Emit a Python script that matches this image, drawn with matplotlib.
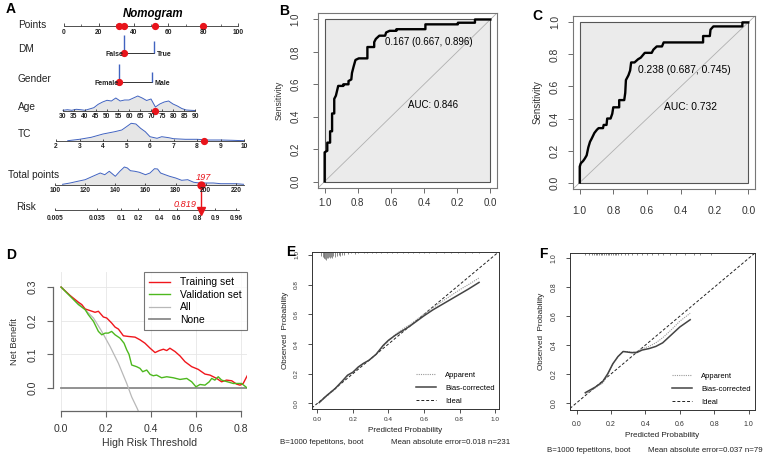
import numpy as np
import matplotlib
matplotlib.use("Agg")
import matplotlib.pyplot as plt
from matplotlib.patches import Rectangle

plt.rcParams["font.family"] = ["Liberation Sans", "DejaVu Sans"]

W, H = 767, 463

# ---------------- data: A nomogram ----------------
points_ticks = [0, 20, 40, 60, 80, 100]
dm_levels = ["False", "True"]
dm_points = [34.7, 51.7]
dm_freq = [18, 12]
gender_levels = ["Female", "Male"]
gender_points = [31.8, 50.4]
gender_freq = [18, 10]
age_ticks = list(range(30, 95, 5))
age_grid = list(range(30, 92, 2))
age_dens = [0.7, 1.3, 0.7, 1.7, 1.3, 0.7, 2.0, 3.3, 6.7, 9.0,
            10.7, 10.0, 13.0, 10.0, 11.0, 11.0, 13.0, 15.0, 13.0, 10.5,
            12.0, 4.0, 7.0, 9.0, 10.0, 7.0, 5.0, 2.5, 1.0, 0.7, 0.5]
tc_ticks = [2, 3, 4, 5, 6, 7, 8, 9, 10]
tc_grid = [2.5, 3, 3.5, 4, 4.5, 4.8, 5, 5.2, 5.4, 5.6, 5.8, 6, 6.3, 6.5,
           6.8, 7, 7.5, 8, 8.5, 9, 9.5, 10]
tc_dens = [0.3, 1.7, 3.7, 7.0, 9.3, 11.0, 14.3, 17.7, 17.0, 12.7, 9.3, 4.3,
           2.7, 4.3, 3.3, 2.3, 1.7, 1.7, 1.0, 1.0, 0.7, 0.3]
total_ticks = [100, 120, 140, 160, 180, 200, 220]
total_grid = [105, 110, 115, 120, 125, 130, 133, 136, 140, 143, 146, 148, 150,
              153, 156, 160, 163, 166, 168, 170, 173, 176, 180, 184, 188, 192,
              196, 200, 205, 210, 215, 220, 225]
total_dens = [0.7, 2.0, 3.7, 5.3, 8.7, 12.0, 10.3, 13.7, 8.7, 13.7, 18.0, 17.0,
              14.3, 13.7, 12.7, 10.3, 12.0, 16.3, 16.0, 12.0, 10.3, 8.7, 7.0,
              4.7, 5.3, 2.7, 2.0, 2.0, 2.0, 1.3, 1.3, 1.3, 0.7]
risk_ticks = [0.005, 0.035, 0.1, 0.2, 0.4, 0.6, 0.8, 0.9, 0.96]
risk_labels = ["0.005", "0.035", "0.1", "0.2", "0.4", "0.6", "0.8", "0.9", "0.96"]
case_points = [31.8, 34.7, 52.5, 80.0]
case_dm, case_gender = 0, 0
case_age = 72
case_tc = 8.3
case_total = 197
case_risk = 0.819

# ---------------- data: B / C ROC ----------------
b_spec = [1.0, 1.0, 0.984, 0.984, 0.967, 0.967, 0.955, 0.955, 0.942, 0.942,
          0.932, 0.918, 0.918, 0.887, 0.887, 0.856, 0.856, 0.839, 0.835, 0.825,
          0.814, 0.794, 0.742, 0.742, 0.701, 0.701, 0.691, 0.670, 0.635, 0.629,
          0.608, 0.567, 0.567, 0.392, 0.392, 0.196, 0.196, 0.093, 0.093, 0.0]
b_sens = [0.0, 0.18, 0.19, 0.24, 0.24, 0.31, 0.31, 0.42, 0.42, 0.51,
          0.53, 0.59, 0.59, 0.59, 0.60, 0.60, 0.62, 0.63, 0.67, 0.71,
          0.75, 0.76, 0.76, 0.83, 0.83, 0.86, 0.88, 0.90, 0.90, 0.92,
          0.93, 0.93, 0.94, 0.94, 0.97, 0.97, 0.98, 0.98, 1.0, 1.0]
c_spec = [1.0, 1.0, 0.994, 0.980, 0.970, 0.959, 0.949, 0.939, 0.929, 0.913,
          0.898, 0.888, 0.862, 0.858, 0.841, 0.837, 0.817, 0.807, 0.801, 0.766,
          0.766, 0.736, 0.730, 0.726, 0.711, 0.701, 0.695, 0.675, 0.654, 0.638,
          0.614, 0.573, 0.563, 0.543, 0.512, 0.502, 0.268, 0.268, 0.228, 0.224,
          0.207, 0.035, 0.035, 0.0]
c_sens = [0.0, 0.10, 0.12, 0.135, 0.15, 0.17, 0.22, 0.255, 0.275, 0.31,
          0.33, 0.34, 0.34, 0.36, 0.36, 0.40, 0.40, 0.43, 0.47, 0.47,
          0.515, 0.515, 0.56, 0.64, 0.67, 0.70, 0.75, 0.75, 0.77, 0.78,
          0.81, 0.81, 0.83, 0.85, 0.85, 0.875, 0.875, 0.915, 0.915, 0.955,
          0.975, 0.975, 1.0, 1.0]

# ---------------- data: D decision curve ----------------
red_t = [0, 0.04, 0.077, 0.092, 0.107, 0.129, 0.151, 0.166, 0.188, 0.203,
         0.225, 0.24, 0.255, 0.277, 0.30, 0.329, 0.351, 0.373, 0.396, 0.418,
         0.437, 0.455, 0.47, 0.484, 0.507, 0.529, 0.551, 0.581, 0.61, 0.64,
         0.662, 0.692, 0.714, 0.736, 0.759, 0.781, 0.796, 0.81, 0.828]
red_nb = [0.30, 0.275, 0.255, 0.248, 0.235, 0.23, 0.225, 0.228, 0.211, 0.208,
          0.193, 0.181, 0.175, 0.155, 0.153, 0.151, 0.143, 0.133, 0.118, 0.105,
          0.111, 0.115, 0.111, 0.118, 0.108, 0.095, 0.078, 0.063, 0.055, 0.041,
          0.038, 0.028, 0.018, 0.023, 0.021, 0.011, 0.008, 0.013, 0.036]
green_t = [0, 0.077, 0.107, 0.121, 0.144, 0.166, 0.181, 0.196, 0.21, 0.225,
           0.24, 0.262, 0.28, 0.292, 0.302, 0.314, 0.336, 0.351, 0.363, 0.381,
           0.396, 0.41, 0.425, 0.447, 0.47, 0.499, 0.529, 0.559, 0.581, 0.60,
           0.618, 0.64, 0.659, 0.67, 0.684, 0.699, 0.714, 0.766, 0.803, 0.825]
green_nb = [0.30, 0.248, 0.233, 0.218, 0.198, 0.168, 0.158, 0.163, 0.163, 0.168,
            0.158, 0.148, 0.133, 0.113, 0.10, 0.068, 0.063, 0.058, 0.048, 0.053,
            0.04, 0.036, 0.038, 0.03, 0.033, 0.03, 0.025, 0.028, 0.018, 0.003,
            0.01, 0.008, 0.018, 0.028, 0.023, 0.033, 0.023, 0.013, 0.013, 0.001]
all_t = [0, 0.05, 0.099, 0.144, 0.181, 0.218, 0.255, 0.292, 0.314, 0.339, 0.35]
all_nb = [0.30, 0.268, 0.238, 0.208, 0.168, 0.123, 0.073, 0.013, -0.027, -0.062, -0.08]
none_t = [0, 0.827]
none_nb = [0, 0]

# ---------------- data: E / F calibration ----------------
e_x = [0.01, 0.05, 0.10, 0.14, 0.17, 0.20, 0.23, 0.26, 0.29, 0.33, 0.37, 0.40,
       0.44, 0.48, 0.52, 0.56, 0.60, 0.65, 0.70, 0.75, 0.80, 0.85, 0.91]
e_bias = [0.005, 0.05, 0.10, 0.15, 0.19, 0.21, 0.245, 0.27, 0.29, 0.33, 0.39, 0.425,
          0.46, 0.49, 0.52, 0.555, 0.59, 0.63, 0.665, 0.70, 0.735, 0.77, 0.815]
e_app = [0.005, 0.045, 0.095, 0.145, 0.185, 0.21, 0.24, 0.27, 0.29, 0.33, 0.385, 0.42,
         0.465, 0.50, 0.53, 0.565, 0.60, 0.645, 0.685, 0.725, 0.765, 0.80, 0.845]
e_rug_x = [0.02, 0.03, 0.035, 0.04, 0.045, 0.05, 0.055, 0.06, 0.065, 0.07,
           0.075, 0.08, 0.09, 0.10, 0.11, 0.12, 0.13, 0.14, 0.15, 0.17,
           0.19, 0.21, 0.23, 0.26, 0.28, 0.31, 0.33, 0.36, 0.39, 0.42,
           0.45, 0.48, 0.51, 0.54, 0.57, 0.60, 0.63, 0.67, 0.71, 0.75,
           0.79, 0.83, 0.87, 0.91]
e_rug_h = [0.03, 0.035, 0.04, 0.045, 0.05, 0.055, 0.045, 0.04, 0.035, 0.045,
           0.035, 0.04, 0.03, 0.035, 0.03, 0.025, 0.03, 0.02, 0.02, 0.015,
           0.012, 0.015, 0.012, 0.01, 0.012, 0.01, 0.012, 0.01, 0.008, 0.01,
           0.012, 0.008, 0.01, 0.008, 0.01, 0.008, 0.01, 0.008, 0.008, 0.01,
           0.008, 0.008, 0.008, 0.008]
f_x = [0.05, 0.08, 0.11, 0.15, 0.18, 0.21, 0.24, 0.27, 0.29, 0.32, 0.35, 0.38,
       0.42, 0.46, 0.50, 0.55, 0.60, 0.66]
f_bias = [0.07, 0.09, 0.11, 0.145, 0.20, 0.27, 0.32, 0.355, 0.352, 0.347, 0.348,
          0.365, 0.375, 0.39, 0.415, 0.47, 0.525, 0.575]
f_app = [0.06, 0.08, 0.105, 0.135, 0.19, 0.265, 0.32, 0.355, 0.355, 0.35, 0.355,
         0.375, 0.39, 0.415, 0.45, 0.505, 0.565, 0.62]
f_rug_x = [0.05, 0.07, 0.09, 0.10, 0.11, 0.12, 0.13, 0.14, 0.15, 0.16, 0.17,
           0.18, 0.19, 0.20, 0.21, 0.22, 0.23, 0.24, 0.26, 0.28, 0.30, 0.32,
           0.35, 0.38, 0.41, 0.44, 0.47, 0.50, 0.54, 0.58, 0.63, 0.68, 0.72, 0.78]
f_rug_h = [0.018] * len(f_rug_x)


def rect(x0, y0, x1, y1):
    return [x0 / W, 1 - y1 / H, (x1 - x0) / W, (y1 - y0) / H]


fig = plt.figure(figsize=(W / 100, H / 100), dpi=100)

# ================= A: nomogram (pixel space axes) =================
axA = fig.add_axes(rect(0, 0, 250, 230))
axA.set_xlim(0, 250)
axA.set_ylim(230, 0)
axA.axis("off")

px_points = lambda p: 64 + 1.74 * np.asarray(p, float)
px_age = lambda a: 63 + 2.2 * (np.asarray(a, float) - 30)
px_tc = lambda t: 56 + 23.5 * (np.asarray(t, float) - 2)
px_total = lambda t: 55 + 1.508 * (np.asarray(t, float) - 100)
px_risk = lambda r: 168.1 + 21.37 * np.log(np.asarray(r, float) / (1 - np.asarray(r, float)))

RED = "#e8141b"
BLUE = "#4163c0"
LINE = "#333333"


def nomo_axis(y, xs, labels, x_from, x_to, lab_dy=6):
    axA.plot([x_from, x_to], [y, y], color=LINE, lw=0.6)
    axA.vlines(xs, y - 2.2, y, color=LINE, lw=0.6)
    for x, lab in zip(xs, labels):
        axA.text(x, y + lab_dy, lab, ha="center", va="center", fontsize=4.8,
                 fontweight="bold", color="#222222")


def density(y, xs, h):
    xs = np.asarray(xs, float)
    top = y - np.asarray(h, float)
    axA.fill_between(xs, top, y, color="#e6e6e6", lw=0)
    axA.plot(xs, top, color=BLUE, lw=0.7)


axA.text(153, 14, "Nomogram", ha="center", va="center", fontsize=8.3,
         fontweight="bold", fontstyle="italic")
row_labels = [("Points", 18, 25), ("DM", 18, 49), ("Gender", 18, 79), ("Age", 18, 107),
              ("TC", 18, 134), ("Total points", 8, 175), ("Risk", 16, 207)]
for txt, x, y in row_labels:
    axA.text(x, y, txt, ha="left", va="center", fontsize=7.3, color="#222222")

# Points
nomo_axis(25.5, px_points(points_ticks), [str(v) for v in points_ticks],
          px_points(0), px_points(100), lab_dy=7)
axA.vlines(px_points(range(10, 100, 20)), 24, 25.5, color=LINE, lw=0.5)

# DM
y_dm = 53
xs = px_points(dm_points)
axA.plot(xs, [y_dm, y_dm], color=LINE, lw=0.7)
axA.vlines(xs, y_dm - np.array(dm_freq), y_dm, color=BLUE, lw=1.0)
axA.text(xs[0] - 1.5, y_dm + 1.8, dm_levels[0], ha="right", va="center", fontsize=5,
         fontweight="bold", color="#222222")
axA.text(xs[1] + 2.5, y_dm + 1.8, dm_levels[1], ha="left", va="center", fontsize=5,
         fontweight="bold", color="#222222")

# Gender
y_g = 82
xs = px_points(gender_points)
axA.plot(xs, [y_g, y_g], color=LINE, lw=0.7)
axA.vlines(xs, y_g - np.array(gender_freq), y_g, color=BLUE, lw=1.0)
axA.text(xs[0] - 1, y_g + 1.8, gender_levels[0], ha="right", va="center", fontsize=5,
         fontweight="bold", color="#222222")
axA.text(xs[1] + 2.5, y_g + 1.8, gender_levels[1], ha="left", va="center", fontsize=5,
         fontweight="bold", color="#222222")

# Age
y_age = 111
density(y_age, px_age(age_grid), age_dens)
nomo_axis(y_age, px_age(age_ticks), [str(v) for v in age_ticks], px_age(30), px_age(90))

# TC
y_tc = 141
density(y_tc, px_tc(tc_grid), tc_dens)
nomo_axis(y_tc, px_tc(tc_ticks), [str(v) for v in tc_ticks], px_tc(2), px_tc(10))

# Total points
y_tot = 185
density(y_tot, px_total(total_grid), total_dens)
nomo_axis(y_tot, px_total(total_ticks), [str(v) for v in total_ticks],
          px_total(100), px_total(225))

# Risk
y_risk = 210
nomo_axis(y_risk, px_risk(risk_ticks), risk_labels, px_risk(0.005), px_risk(0.96) + 3,
          lab_dy=8)

# case markers
axA.plot(px_points(case_points), [25.5] * len(case_points), "o", color=RED, ms=4.2)
axA.plot(px_points(dm_points[case_dm]), y_dm, "o", color=RED, ms=4.2)
axA.plot(px_points(gender_points[case_gender]), y_g, "o", color=RED, ms=4.2)
axA.plot(px_age(case_age), y_age, "o", color=RED, ms=4.2)
axA.plot(px_tc(case_tc), y_tc, "o", color=RED, ms=4.2)
xt = float(px_total(case_total))
axA.plot(xt, y_tot, "o", color=RED, ms=5)
axA.plot([xt, xt], [y_tot, y_risk - 2], color=RED, lw=1.0)
axA.plot(xt, y_risk + 1, "v", color=RED, ms=6)
axA.text(xt + 2, y_tot - 8, str(case_total), ha="center", va="center", fontsize=6.6,
         color=RED, fontstyle="italic")
axA.text(xt - 5, y_risk - 6, f"{case_risk:.3f}", ha="right", va="center", fontsize=6.6,
         color=RED, fontstyle="italic")


# ================= B / C: ROC =================
def roc_panel(box, spec, sens, cut_text, cut_xy, auc_text, auc_xy, tick_fs, lab_fs,
              xpad, ypad, ylab_pad):
    ax = fig.add_axes(box)
    ax.set_xlim(1.04, -0.04)
    ax.set_ylim(-0.04, 1.04)
    ax.add_patch(Rectangle((0, 0), 1, 1, facecolor="#ebebeb", edgecolor="#555555", lw=0.8))
    ax.axline((1, 0), (0, 1), color="#b0b0b0", lw=0.6)
    ax.plot(spec, sens, color="black", lw=1.7)
    ax.text(cut_xy[0], cut_xy[1], cut_text, ha="left", va="center", fontsize=tick_fs)
    ax.text(auc_xy[0], auc_xy[1], auc_text, ha="left", va="center", fontsize=tick_fs)
    ticks = [1.0, 0.8, 0.6, 0.4, 0.2, 0.0]
    ax.set_xticks(ticks)
    ax.set_xticklabels([f"{t:.1f}" for t in ticks])
    ax.set_yticks(ticks)
    ax.set_yticklabels([f"{t:.1f}" for t in ticks], rotation=90, va="center")
    ax.tick_params(axis="x", length=3.5, width=0.6, color="#555555", labelsize=tick_fs,
                   labelcolor="#333333", pad=xpad)
    ax.tick_params(axis="y", length=3.5, width=0.6, color="#555555", labelsize=tick_fs,
                   labelcolor="#333333", pad=ypad)
    for s in ax.spines.values():
        s.set_color("#777777")
        s.set_linewidth(0.8)
    ax.set_ylabel("Sensitivity", fontsize=lab_fs, color="#333333", labelpad=ylab_pad)
    return ax


roc_panel(rect(318, 13, 497, 188), b_spec, b_sens, "0.167 (0.667, 0.896)", (0.635, 0.86),
          "AUC: 0.846", (0.5, 0.47), 7.0, 6.2, 4, 9, 5)
roc_panel(rect(573, 16, 755, 189), c_spec, c_sens, "0.238 (0.687, 0.745)", (0.656, 0.70),
          "AUC: 0.732", (0.5, 0.47), 7.4, 7.0, 9, 6, 5)

# ================= D: decision curve =================
axD = fig.add_axes(rect(53, 272, 247, 411))
axD.set_xlim(-0.036, 0.827)
axD.set_ylim(-0.069, 0.345)
for v in [0, 0.1, 0.2, 0.3]:
    axD.plot([0, 0.827], [v, v], color="#e6e6e6", lw=0.6, zorder=0)
for v in [0, 0.2, 0.4, 0.6, 0.8]:
    axD.plot([v, v], [-0.069, 0.345], color="#e6e6e6", lw=0.6, zorder=0)
axD.plot(none_t, none_nb, color="#8a8a8a", lw=1.3, label="None", zorder=2)
axD.plot(all_t, all_nb, color="#b8b8b8", lw=0.9, label="All", zorder=2)
axD.plot(red_t, red_nb, color="#f0161c", lw=1.0, label="Training set", zorder=3)
axD.plot(green_t, green_nb, color="#4db81e", lw=1.0, label="Validation set", zorder=3)
for k in ["top", "right"]:
    axD.spines[k].set_visible(False)
axD.spines["left"].set_bounds(0, 0.3)
axD.spines["bottom"].set_bounds(0, 0.8)
for k in ["left", "bottom"]:
    axD.spines[k].set_color("#666666")
    axD.spines[k].set_linewidth(0.9)
axD.set_xticks([0, 0.2, 0.4, 0.6, 0.8])
axD.set_xticklabels(["0.0", "0.2", "0.4", "0.6", "0.8"])
axD.set_yticks([0, 0.1, 0.2, 0.3])
axD.set_yticklabels(["0.0", "0.1", "0.2", "0.3"], rotation=90, va="center")
axD.tick_params(length=4, width=0.8, color="#666666", labelsize=7.6, labelcolor="#333333")
axD.tick_params(axis="x", pad=5)
axD.tick_params(axis="y", pad=7)
axD.set_xlabel("High Risk Threshold", fontsize=7.6, color="#333333", labelpad=3)
axD.set_ylabel("Net Benefit", fontsize=6.8, color="#333333", labelpad=6)
hd, lb = axD.get_legend_handles_labels()
order = [2, 3, 1, 0]
leg = axD.legend([hd[i] for i in order], [lb[i] for i in order], loc="upper right",
                 bbox_to_anchor=(1.0, 1.0), borderaxespad=0, fontsize=7.5, fancybox=False,
                 edgecolor="#555555", handlelength=2.0, handletextpad=1.0,
                 labelspacing=0.25, borderpad=0.5)
leg.get_frame().set_linewidth(0.8)


# ================= E / F: calibration =================
def calib_panel(box, xlim, ylim, x, app, bias, rug_x, rug_h, tick_fs, ypad, xpad, note_y,
                note_x1, note_x2, note_text2):
    ax = fig.add_axes(box)
    ax.set_xlim(*xlim)
    ax.set_ylim(*ylim)
    ax.axline((0, 0), (1, 1), color="#222222", lw=0.7, ls=(0, (3, 2)), label="Ideal")
    ax.plot(x, app, color="#9a9a9a", lw=0.8, ls=(0, (1, 1)), label="Apparent")
    ax.plot(x, bias, color="#444444", lw=1.1, label="Bias-corrected")
    top = ylim[1]
    ax.vlines(rug_x, top - np.asarray(rug_h), top, color="#777777", lw=0.6)
    ticks = [0.0, 0.2, 0.4, 0.6, 0.8, 1.0]
    ax.set_xticks(ticks)
    ax.set_xticklabels([f"{t:.1f}" for t in ticks])
    ax.set_yticks(ticks)
    ax.set_yticklabels([f"{t:.1f}" for t in ticks], rotation=90, va="center")
    ax.tick_params(length=3, width=0.6, color="#333333", labelsize=tick_fs,
                   labelcolor="#333333")
    ax.tick_params(axis="y", pad=ypad)
    ax.tick_params(axis="x", pad=xpad)
    for s in ax.spines.values():
        s.set_color("#333333")
        s.set_linewidth(0.7)
    ax.set_xlabel("Predicted Probability", fontsize=5.9, color="#222222", labelpad=3)
    ax.set_ylabel("Observed  Probability", fontsize=5.9, color="#222222", labelpad=4)
    hd, lb = ax.get_legend_handles_labels()
    order = [1, 2, 0]
    ax.legend([hd[i] for i in order], [lb[i] for i in order], loc="lower right",
              bbox_to_anchor=(1.0, 0.0), frameon=False, fontsize=5.5, handlelength=2.6,
              handletextpad=1.2, labelspacing=0.75, borderaxespad=0.25, borderpad=0.3)
    fig.text(note_x1 / W, 1 - note_y / H, "B=1000 fepetitons, boot", fontsize=5.7,
             va="center", color="#222222")
    fig.text(note_x2 / W, 1 - note_y / H, note_text2, fontsize=5.7, va="center",
             color="#222222")


calib_panel(rect(311.7, 251.7, 499.3, 409), (-0.032, 1.024), (-0.038, 1.022), e_x, e_app,
            e_bias, e_rug_x, e_rug_h, 4.6, 6, 3, 442, 280, 391,
            "Mean absolute error=0.018 n=231")
calib_panel(rect(570, 252.7, 755, 410), (-0.039, 1.037), (-0.05, 1.039), f_x, f_app,
            f_bias, f_rug_x, f_rug_h, 5.0, 6, 5, 451, 547, 648,
            "Mean absolute error=0.037 n=79")

# panel letters
for letter, x, y in [("A", 11, 9), ("B", 284, 11), ("C", 537, 15.5), ("D", 11, 255),
                     ("E", 291, 252), ("F", 543, 254)]:
    fig.text(x / W, 1 - y / H, letter, fontsize=10, fontweight="bold", ha="center",
             va="center")

fig.savefig("out.png", dpi=100)
